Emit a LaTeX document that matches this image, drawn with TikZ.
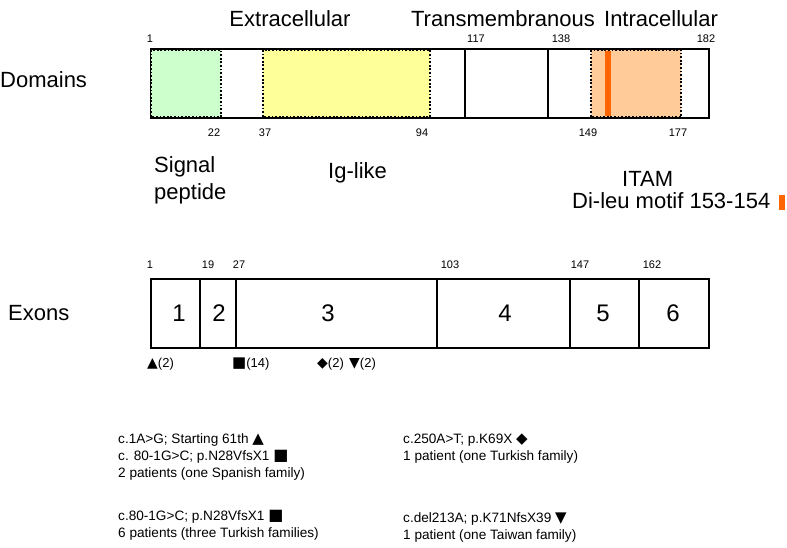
\documentclass[tikz,border=0pt]{standalone}
\usepackage{fontspec}
\setmainfont{Liberation Sans}
\newfontfamily\symf{DejaVu Sans}
\definecolor{sigcol}{HTML}{CCFFCC}
\definecolor{igcol}{HTML}{FFFF99}
\definecolor{itamcol}{HTML}{FFCC99}
\definecolor{leucol}{HTML}{FF6600}
\begin{document}
\begin{tikzpicture}[x=1pt,y=-1pt,
  big/.style={font=\fontsize{22}{26}\selectfont, inner sep=0pt, anchor=base},
  bigw/.style={big, anchor=base west},
  num/.style={font=\fontsize{11}{13}\selectfont, inner sep=0pt, anchor=base},
  exn/.style={font=\fontsize{24}{28}\selectfont, inner sep=0pt, anchor=base},
  txt/.style={font=\fontsize{13.6}{16}\selectfont, inner sep=0pt, anchor=west},
  cnt/.style={font=\fontsize{13}{15}\selectfont, inner sep=0pt, anchor=base west},
  outer/.style={draw=black, line width=2.2pt},
  divider/.style={draw=black, line width=2pt},
  region/.style={draw=black, line width=1.8pt, dash pattern=on 1.8pt off 1.8pt}
]
\useasboundingbox (0,0) rectangle (787,548);

% titles
\node[big] (extra) at (290,27) {Extracellular};
\node[big] (trans) at (503,27) {Transmembranous};
\node[big] (intra) at (661,27) {Intracellular};

% domains bar
\node[bigw] (domlbl) at (0,88) {Domains};
\draw[outer] (151,49) rectangle (709,118);
\draw[divider] (465,49) -- (465,118);
\draw[divider] (548,49) -- (548,118);
\filldraw[fill=sigcol, region] (151,50) rectangle (221,117);
\filldraw[fill=igcol, region] (263,50) rectangle (430,117);
\filldraw[fill=itamcol, region] (591,50) rectangle (681,117);
\fill[leucol] (605,51) rectangle (611,116);

\node[num] (d1) at (150,43) {1};
\node[num] (d117) at (476,43) {117};
\node[num] (d138) at (561,43) {138};
\node[num] (d182) at (706,43) {182};
\node[num] (d22) at (214,137) {22};
\node[num] (d37) at (265,137) {37};
\node[num] (d94) at (422,137) {94};
\node[num] (d149) at (588,137) {149};
\node[num] (d177) at (678,137) {177};

\node[bigw] (sig1) at (154,173) {Signal};
\node[bigw] (sig2) at (154,200) {peptide};
\node[bigw] (ig) at (328,179) {Ig-like};
\node[bigw] (itam) at (622,187) {ITAM};
\node[bigw] (dileu) at (572,208) {Di-leu motif 153-154};
\fill[leucol] (779,195) rectangle (785,210);

% exons bar
\node[bigw] (exlbl) at (8,320) {Exons};
\draw[outer] (151,279) rectangle (709,348);
\foreach \xx in {200,236,437,570,639} {\draw[divider] (\xx,279) -- (\xx,348);}

\node[num] (e1) at (150,268) {1};
\node[num] (e19) at (208,268) {19};
\node[num] (e27) at (239,268) {27};
\node[num] (e103) at (450,268) {103};
\node[num] (e147) at (580,268) {147};
\node[num] (e162) at (652,268) {162};

\node[exn] (x1) at (179,321) {1};
\node[exn] (x2) at (219,321) {2};
\node[exn] (x3) at (328,321) {3};
\node[exn] (x4) at (505,321) {4};
\node[exn] (x5) at (603,321) {5};
\node[exn] (x6) at (673,321) {6};

\node[cnt] (c1) at (147,367) {{\symf\fontsize{14}{15}\selectfont ▲}(2)};
\node[cnt] (c2) at (232,367) {{\symf\fontsize{15}{15}\selectfont ■}(14)};
\node[cnt] (c3) at (317,367) {{\symf\fontsize{14}{15}\selectfont ◆}(2)};
\node[cnt] (c4) at (349,367) {{\symf\fontsize{14}{15}\selectfont ▼}(2)};

% mutation texts
\node[txt] (m1) at (118,440) {c.1A>G; Starting 61th {\symf\fontsize{15}{16}\selectfont ▲}};
\node[txt] (m2) at (118,457) {c. 80-1G>C; p.N28VfsX1 {\symf\fontsize{16}{16}\selectfont ■}};
\node[txt] (m3) at (118,474) {2 patients (one Spanish family)};
\node[txt] (m4) at (118,517) {c.80-1G>C; p.N28VfsX1 {\symf\fontsize{16}{16}\selectfont ■}};
\node[txt] (m5) at (118,534) {6 patients (three Turkish families)};
\node[txt] (r1) at (403,440) {c.250A>T; p.K69X {\symf\fontsize{15}{16}\selectfont ◆}};
\node[txt] (r2) at (403,457) {1 patient (one Turkish family)};
\node[txt] (r3) at (403,519) {c.del213A; p.K71NfsX39 {\symf\fontsize{15}{16}\selectfont ▼}};
\node[txt] (r4) at (403,536) {1 patient (one Taiwan family)};
\end{tikzpicture}
\end{document}
